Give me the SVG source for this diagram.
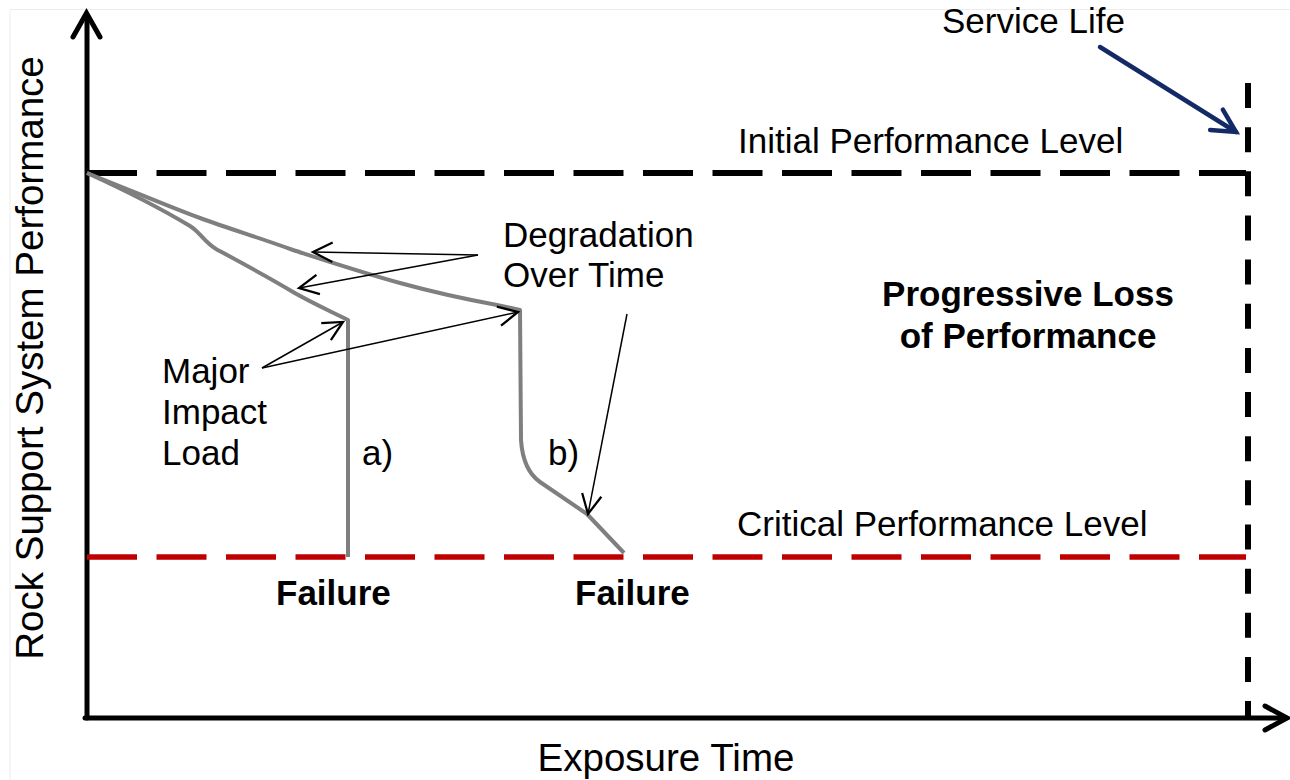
<svg xmlns="http://www.w3.org/2000/svg" width="1290" height="780" viewBox="0 0 1290 780">
  <style>
    .lbl { font-family: "Liberation Sans", Arial, sans-serif; font-size: 35px; fill: #000; }
    .bold { font-weight: bold; }
    .axis-lbl { font-family: "Liberation Sans", Arial, sans-serif; font-size: 38.5px; fill: #000; }
    .axis { fill: none; stroke: #000; stroke-width: 5; stroke-linecap: round; }
    .curve { fill: none; stroke: #7f7f7f; stroke-width: 4; stroke-linejoin: round; }
    .thin { fill: none; stroke: #000; stroke-width: 1.5; }
  </style>
  <defs>
    <marker id="thinHead" markerUnits="userSpaceOnUse" markerWidth="30" markerHeight="30" viewBox="-16 -10 20 20" refX="0" refY="0" orient="auto">
      <path d="M -13 -6.5 L 0 0 L -13 6.5" fill="none" stroke="#000" stroke-width="1.5"/>
    </marker>
    <marker id="navyHead" markerUnits="userSpaceOnUse" markerWidth="40" markerHeight="40" viewBox="-30 -20 36 40" refX="0" refY="0" orient="auto">
      <path d="M -23 -12 L 0 0 L -23 12" fill="none" stroke="#142a66" stroke-width="4.5" stroke-linecap="round"/>
    </marker>
  </defs>

  <rect width="1290" height="780" fill="#fff"/>
  <!-- faint frame -->
  <path d="M 10 780 L 10 9.5 L 1290 9.5" fill="none" stroke="#ececec" stroke-width="1"/>

  <!-- axes -->
  <g id="axes">
    <path class="axis" d="M 87 718 L 87 15"/>
    <path class="axis" d="M 73 37 L 86.5 13 L 100 37" stroke-linejoin="miter"/>
    <path class="axis" d="M 85 718 L 1285 718"/>
    <path class="axis" d="M 1265 706 L 1287 718 L 1265 730" stroke-linejoin="miter"/>
  </g>

  <!-- reference levels -->
  <g id="levels">
    <line x1="87" y1="173" x2="1246" y2="173" stroke="#000" stroke-width="6" stroke-dasharray="50 19.5"/>
    <line x1="87" y1="557" x2="1246" y2="557" stroke="#c00000" stroke-width="5.5" stroke-dasharray="50 19.5"/>
    <line x1="1248" y1="83" x2="1248" y2="718" stroke="#000" stroke-width="6" stroke-dasharray="25 19.15"/>
  </g>

  <!-- performance curves -->
  <g id="curve-a">
    <path class="curve" d="M 87 173 C 120 188 160 208 190 226 C 200 232 204 242 216 249 C 240 262 270 278 293 292 C 312 303 330 311 348 320 L 348 557"/>
  </g>
  <g id="curve-b">
    <path class="curve" d="M 87 173 C 130 190 170 207 200 218 C 230 229 260 238 293 250 C 330 262 360 272 400 283 C 440 294 470 300 497 305 L 520 310 L 521 440 Q 523 470 540 482 L 587 514 L 624 553"/>
  </g>

  <!-- connectors -->
  <g id="connectors">
    <line class="thin" x1="478" y1="255" x2="313" y2="252" marker-end="url(#thinHead)"/>
    <line class="thin" x1="478" y1="255" x2="299" y2="288" marker-end="url(#thinHead)"/>
    <line class="thin" x1="262" y1="368" x2="343" y2="322" marker-end="url(#thinHead)"/>
    <line class="thin" x1="262" y1="368" x2="518" y2="312" marker-end="url(#thinHead)"/>
    <line class="thin" x1="627" y1="314" x2="588" y2="514" marker-end="url(#thinHead)"/>
    <line x1="1100" y1="47" x2="1236" y2="132" stroke="#142a66" stroke-width="4.5" stroke-linecap="round" marker-end="url(#navyHead)"/>
  </g>

  <!-- labels -->
  <g id="service-life"><text class="lbl" x="942" y="33">Service Life</text></g>
  <g id="initial-level"><text class="lbl" x="738" y="153">Initial Performance Level</text></g>
  <g id="critical-level"><text class="lbl" x="737" y="536">Critical Performance Level</text></g>
  <g id="degradation"><text class="lbl" x="503" y="247">Degradation</text><text class="lbl" x="503" y="287">Over Time</text></g>
  <g id="impact"><text class="lbl" x="162" y="383">Major</text><text class="lbl" x="162" y="424">Impact</text><text class="lbl" x="162" y="465">Load</text></g>
  <g id="label-a"><text class="lbl" x="362" y="465">a)</text></g>
  <g id="label-b"><text class="lbl" x="548" y="465">b)</text></g>
  <g id="progressive"><text class="lbl bold" x="1028" y="306" text-anchor="middle">Progressive Loss</text><text class="lbl bold" x="1028" y="348" text-anchor="middle">of Performance</text></g>
  <g id="failure-a"><text class="lbl bold" x="276" y="605">Failure</text></g>
  <g id="failure-b"><text class="lbl bold" x="575" y="605">Failure</text></g>
  <g id="x-label"><text class="axis-lbl" x="666" y="771" text-anchor="middle">Exposure Time</text></g>
  <g id="y-label"><text class="axis-lbl" transform="translate(43,358) rotate(-90)" text-anchor="middle">Rock Support System Performance</text></g>
</svg>
